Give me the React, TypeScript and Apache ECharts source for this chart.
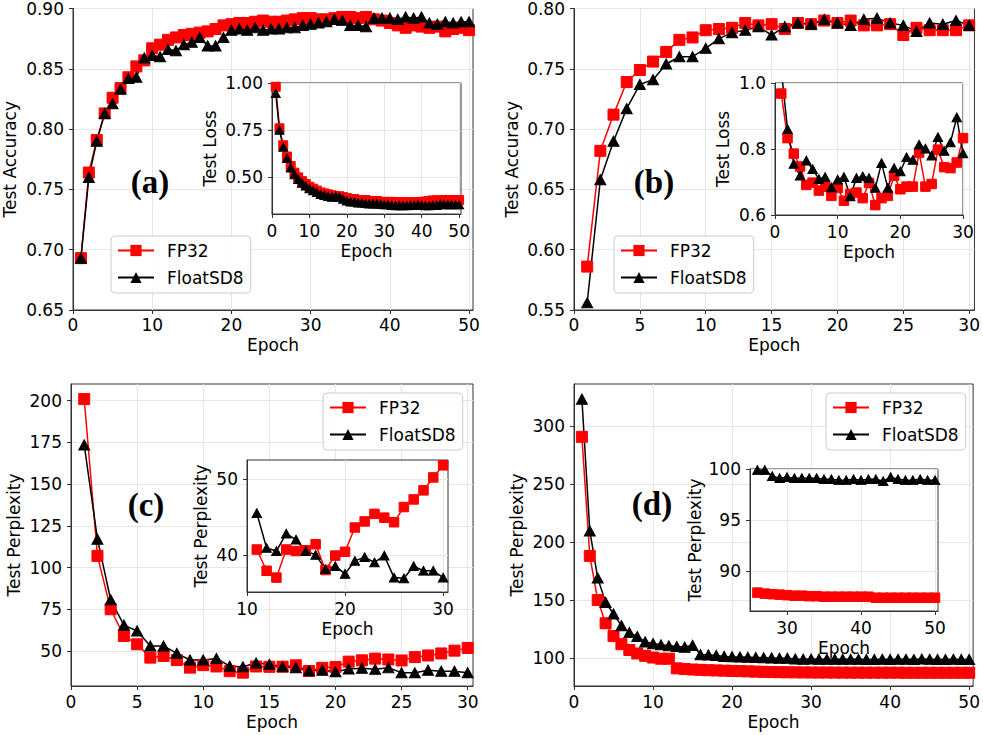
import React, { useEffect, useRef } from "react";
import * as echarts from "echarts";

// ---------- data ----------
const A_ACC_FP32 = [0.693, 0.764, 0.791, 0.813, 0.826, 0.834, 0.843, 0.852, 0.857, 0.867, 0.870, 0.874, 0.876, 0.878, 0.879, 0.880, 0.881, 0.883, 0.886, 0.887, 0.888, 0.888, 0.889, 0.890, 0.889, 0.889, 0.890, 0.891, 0.892, 0.892, 0.891, 0.891, 0.892, 0.893, 0.893, 0.892, 0.893, 0.891, 0.890, 0.888, 0.886, 0.884, 0.886, 0.885, 0.884, 0.885, 0.881, 0.883, 0.884, 0.882];
const A_ACC_SD8 = [0.693, 0.760, 0.790, 0.813, 0.821, 0.833, 0.842, 0.843, 0.859, 0.861, 0.860, 0.866, 0.865, 0.870, 0.872, 0.876, 0.869, 0.869, 0.876, 0.882, 0.883, 0.882, 0.884, 0.882, 0.883, 0.883, 0.884, 0.884, 0.886, 0.887, 0.888, 0.889, 0.891, 0.890, 0.886, 0.886, 0.885, 0.892, 0.892, 0.892, 0.891, 0.893, 0.892, 0.893, 0.888, 0.887, 0.889, 0.888, 0.889, 0.889];
const A_LOSS_FP32 = [0.98, 0.76, 0.67, 0.61, 0.56, 0.525, 0.50, 0.48, 0.465, 0.45, 0.44, 0.43, 0.42, 0.415, 0.41, 0.405, 0.40, 0.40, 0.395, 0.39, 0.385, 0.385, 0.38, 0.38, 0.38, 0.375, 0.375, 0.375, 0.37, 0.37, 0.37, 0.37, 0.368, 0.368, 0.368, 0.368, 0.368, 0.368, 0.368, 0.37, 0.372, 0.375, 0.378, 0.378, 0.378, 0.38, 0.38, 0.38, 0.378, 0.38];
const A_LOSS_SD8 = [0.945, 0.75, 0.66, 0.60, 0.55, 0.515, 0.49, 0.47, 0.455, 0.44, 0.43, 0.42, 0.41, 0.405, 0.40, 0.395, 0.40, 0.395, 0.385, 0.375, 0.37, 0.37, 0.365, 0.365, 0.362, 0.36, 0.36, 0.36, 0.358, 0.355, 0.355, 0.352, 0.35, 0.35, 0.35, 0.35, 0.352, 0.352, 0.355, 0.352, 0.35, 0.35, 0.352, 0.352, 0.36, 0.355, 0.355, 0.355, 0.355, 0.355];

const B_ACC_FP32 = [0.586, 0.682, 0.712, 0.739, 0.749, 0.756, 0.764, 0.774, 0.776, 0.782, 0.783, 0.784, 0.788, 0.786, 0.787, 0.783, 0.788, 0.787, 0.790, 0.788, 0.790, 0.786, 0.786, 0.787, 0.778, 0.784, 0.782, 0.782, 0.782, 0.786];
const B_ACC_SD8 = [0.556, 0.658, 0.690, 0.717, 0.737, 0.741, 0.754, 0.760, 0.760, 0.767, 0.775, 0.780, 0.782, 0.785, 0.778, 0.785, 0.788, 0.787, 0.791, 0.788, 0.786, 0.791, 0.792, 0.788, 0.786, 0.781, 0.788, 0.787, 0.790, 0.786];
const B_LOSS_FP32 = [0.968, 0.833, 0.786, 0.747, 0.691, 0.698, 0.674, 0.686, 0.658, 0.682, 0.643, 0.664, 0.668, 0.651, 0.697, 0.630, 0.651, 0.658, 0.719, 0.678, 0.686, 0.686, 0.789, 0.686, 0.694, 0.798, 0.745, 0.742, 0.759, 0.833];
const B_LOSS_SD8 = [1.04, 0.860, 0.755, 0.719, 0.765, 0.739, 0.709, 0.715, 0.684, 0.707, 0.715, 0.656, 0.712, 0.717, 0.712, 0.682, 0.757, 0.682, 0.742, 0.732, 0.775, 0.767, 0.813, 0.801, 0.780, 0.836, 0.794, 0.820, 0.896, 0.787];

const C_PPL_FP32 = [201, 107, 75, 59, 54, 46, 47, 44.5, 40, 41.5, 40.7, 37.9, 37.0, 40.7, 40.5, 40.6, 41.4, 38.0, 39.9, 40.4, 43.6, 44.4, 45.4, 44.9, 44.3, 46.3, 47.3, 48.5, 50.2, 51.8];
const C_PPL_SD8 = [173.5, 117, 80.7, 65.5, 62, 53, 53, 48.6, 44.6, 44.6, 45.5, 40.9, 40.5, 42.8, 42.0, 40.5, 40.0, 38.1, 38.5, 37.5, 39.2, 39.7, 39.0, 39.9, 37.0, 36.9, 38.5, 37.9, 37.9, 37.0];

const D_PPL_FP32 = [290.5, 188, 150, 130, 119, 112, 107, 104, 102, 100.5, 99.5, 99.5, 91.2, 90.6, 90.2, 89.9, 89.6, 89.4, 89.2, 89.0, 88.8, 88.6, 88.4, 88.2, 88.0, 87.9, 87.8, 87.75, 87.7, 87.65, 87.6, 87.6, 87.55, 87.55, 87.5, 87.5, 87.5, 87.5, 87.5, 87.5, 87.5, 87.4, 87.4, 87.4, 87.4, 87.4, 87.4, 87.4, 87.4, 87.4];
const D_PPL_SD8 = [323, 209.5, 169, 148, 138, 128, 122, 118.6, 114, 112.5, 111.5, 110.6, 110, 109.5, 111, 103, 102.8, 102.3, 101.5, 101.2, 101.0, 100.8, 100.6, 100.4, 100.2, 99.9, 99.9, 99.3, 99.1, 99.2, 99.1, 99.1, 99.1, 99.1, 99.0, 99.0, 98.9, 98.9, 99.0, 98.9, 99.0, 99.0, 98.8, 99.2, 99.0, 98.9, 98.9, 99.0, 98.9, 98.9];

// inset C starts at epoch 11, inset D at epoch 26
const C_INSET_START = 11;
const D_INSET_START = 26;

// tick labels
const X_TICKS_50 = [0, 10, 20, 30, 40, 50];
const X_TICKS_30 = [0, 5, 10, 15, 20, 25, 30];
const X_TICKS_INSET_B = [0, 10, 20, 30];
const X_TICKS_INSET_C = [10, 20, 30];
const X_TICKS_INSET_D = [30, 40, 50];
const Y_TICKS_A = [0.65, 0.70, 0.75, 0.80, 0.85, 0.90];
const Y_TICKS_A_INSET = [0.50, 0.75, 1.00];
const Y_TICKS_B = [0.55, 0.60, 0.65, 0.70, 0.75, 0.80];
const Y_TICKS_B_INSET = [0.6, 0.8, 1.0];
const Y_TICKS_C = [50, 75, 100, 125, 150, 175, 200];
const Y_TICKS_C_INSET = [40, 50];
const Y_TICKS_D = [100, 150, 200, 250, 300];
const Y_TICKS_D_INSET = [90, 95, 100];

const SERIES_NAMES = ["FP32", "FloatSD8"];
const PANEL_LABELS = ["(a)", "(b)", "(c)", "(d)"];

// ---------- helpers ----------
const FONT = "DejaVu Sans";
const FS = 17;
const FRAME = "#333333";
const GRIDLINE = "#e6e6e6";

const pairs = (vals: number[], start = 1) => vals.map((v, i) => [i + start, v]);

function grid(left: number, top: number, width: number, height: number, z: number) {
  return {
    left, top, width, height, z,
    show: true, borderColor: FRAME, borderWidth: 1, backgroundColor: "#ffffff",
    containLabel: false,
  };
}

function axis(
  kind: "x" | "y", gridIndex: number, min: number, max: number, ticks: number[],
  name: string, nameGap: number, margin: number, fmt: (v: number) => string, z: number
) {
  return {
    type: "value", gridIndex, min, max, z,
    name, nameLocation: "middle", nameGap,
    nameTextStyle: { fontFamily: FONT, fontSize: FS, color: "#000" },
    axisLine: { show: true, onZero: false, lineStyle: { color: FRAME, width: 1 } },
    axisTick: { show: true, length: 4, inside: false, customValues: ticks, lineStyle: { color: FRAME } },
    axisLabel: {
      customValues: ticks, margin, fontFamily: FONT, fontSize: FS, color: "#000",
      formatter: (v: number) => fmt(v),
    },
    splitLine: { show: true, lineStyle: { color: GRIDLINE, width: 1 } },
  };
}

const f0 = (v: number) => String(Math.round(v));
const f1 = (v: number) => v.toFixed(1);
const f2 = (v: number) => v.toFixed(2);

function lineSeries(
  name: string, axisIdx: number, data: number[][], symbolSize: number, z: number
) {
  const isFP = name === SERIES_NAMES[0];
  const color = isFP ? "#ff0000" : "#000000";
  return {
    type: "line", name, xAxisIndex: axisIdx, yAxisIndex: axisIdx, data, z,
    symbol: isFP ? "rect" : "triangle",
    symbolSize: isFP ? symbolSize : [symbolSize, symbolSize * 0.92],
    showAllSymbol: true,
    clip: true,
    itemStyle: { color, borderColor: color },
    lineStyle: { color, width: 1.5 },
    emphasis: { disabled: true },
  };
}

function legend(left: number, top: number) {
  return {
    left, top, orient: "vertical",
    itemWidth: 36, itemHeight: 14, itemGap: 10,
    padding: [6, 7, 7, 6],
    borderColor: "#cccccc", borderWidth: 1, borderRadius: 4,
    backgroundColor: "rgba(255,255,255,0.85)",
    textStyle: { fontFamily: FONT, fontSize: FS, color: "#000", padding: [0, 0, 0, 8] },
    data: SERIES_NAMES,
    selectedMode: false,
    z: 8,
  };
}

function panelLabel(text: string, x: number, y: number) {
  return {
    type: "text", z: 9,
    style: {
      text, x, y,
      fontFamily: "Liberation Serif", fontSize: 33, fontWeight: "bold",
      fill: "#000",
      textAlign: "center", textVerticalAlign: "middle",
      align: "center", verticalAlign: "middle",
    },
  };
}

export default function App() {
  const ref = useRef<HTMLDivElement>(null);

  useEffect(() => {
    if (!ref.current) return;
    const chart = echarts.init(ref.current, undefined, { renderer: "svg" });

    const grids = [
      grid(71, 8, 402, 302, 0),    // 0 a main
      grid(272, 83, 189, 131, 3),  // 1 a inset
      grid(574, 8, 401, 302, 0),   // 2 b main
      grid(775, 83, 188, 132, 3),  // 3 b inset
      grid(71, 384, 402, 302, 0),  // 4 c main
      grid(247, 460, 201, 132, 3), // 5 c inset
      grid(574, 384, 402, 302, 0), // 6 d main
      grid(750, 469, 188, 142, 3), // 7 d inset
    ];

    const xAxes = [
      axis("x", 0, 0, 50.5, X_TICKS_50, "Epoch", 26, 6, f0, 0),
      axis("x", 1, 0, 50.5, X_TICKS_50, "Epoch", 28, 8, f0, 4),
      axis("x", 2, 0, 30.4, X_TICKS_30, "Epoch", 26, 6, f0, 0),
      axis("x", 3, 0, 30, X_TICKS_INSET_B, "Epoch", 28, 8, f0, 4),
      axis("x", 4, 0, 30.4, X_TICKS_30, "Epoch", 27, 7, f0, 0),
      axis("x", 5, 10, 30.5, X_TICKS_INSET_C, "Epoch", 28, 8, f0, 4),
      axis("x", 6, 0, 50.5, X_TICKS_50, "Epoch", 27, 7, f0, 0),
      axis("x", 7, 25, 50.4, X_TICKS_INSET_D, "Epoch", 28, 8, f0, 4),
    ];

    const yAxes = [
      axis("y", 0, 0.65, 0.90, Y_TICKS_A, "Test Accuracy", 55, 9, f2, 0),
      axis("y", 1, 0.306, 1.0, Y_TICKS_A_INSET, "Test Loss", 54, 9, f2, 4),
      axis("y", 2, 0.55, 0.80, Y_TICKS_B, "Test Accuracy", 54, 9, f2, 0),
      axis("y", 3, 0.6, 1.0, Y_TICKS_B_INSET, "Test Loss", 44, 9, f1, 4),
      axis("y", 4, 29, 210, Y_TICKS_C, "Test Perplexity", 49, 9, f0, 0),
      axis("y", 5, 35.1, 52.5, Y_TICKS_C_INSET, "Test Perplexity", 38, 9, f0, 4),
      axis("y", 6, 76, 336, Y_TICKS_D, "Test Perplexity", 49, 9, f0, 0),
      axis("y", 7, 86.1, 100, Y_TICKS_D_INSET, "Test Perplexity", 47, 9, f0, 4),
    ];

    const [FP, SD] = SERIES_NAMES;
    const series = [
      lineSeries(FP, 0, pairs(A_ACC_FP32), 11, 2),
      lineSeries(SD, 0, pairs(A_ACC_SD8), 11, 2),
      lineSeries(FP, 2, pairs(B_ACC_FP32), 11, 2),
      lineSeries(SD, 2, pairs(B_ACC_SD8), 11, 2),
      lineSeries(FP, 4, pairs(C_PPL_FP32), 11, 2),
      lineSeries(SD, 4, pairs(C_PPL_SD8), 11, 2),
      lineSeries(FP, 6, pairs(D_PPL_FP32), 11, 2),
      lineSeries(SD, 6, pairs(D_PPL_SD8), 11, 2),
      lineSeries(FP, 1, pairs(A_LOSS_FP32), 9, 5),
      lineSeries(SD, 1, pairs(A_LOSS_SD8), 9, 5),
      lineSeries(FP, 3, pairs(B_LOSS_FP32), 9.5, 5),
      lineSeries(SD, 3, pairs(B_LOSS_SD8), 9.5, 5),
      lineSeries(FP, 5, pairs(C_PPL_FP32.slice(C_INSET_START - 1), C_INSET_START), 9.5, 5),
      lineSeries(SD, 5, pairs(C_PPL_SD8.slice(C_INSET_START - 1), C_INSET_START), 9.5, 5),
      lineSeries(FP, 7, pairs(D_PPL_FP32.slice(D_INSET_START - 1), D_INSET_START), 9.5, 5),
      lineSeries(SD, 7, pairs(D_PPL_SD8.slice(D_INSET_START - 1), D_INSET_START), 9.5, 5),
    ];

    chart.setOption({
      animation: false,
      backgroundColor: "#ffffff",
      textStyle: { fontFamily: FONT },
      grid: grids,
      xAxis: xAxes,
      yAxis: yAxes,
      legend: [legend(111, 236), legend(614, 236), legend(323, 393), legend(826, 393)],
      series,
      graphic: [
        panelLabel(PANEL_LABELS[0], 150, 182),
        panelLabel(PANEL_LABELS[1], 654, 182),
        panelLabel(PANEL_LABELS[2], 146, 505),
        panelLabel(PANEL_LABELS[3], 652, 504),
      ],
    });

    return () => chart.dispose();
  }, []);

  return (
    <div
      ref={ref}
      style={{ position: "fixed", left: 0, top: 0, width: 983, height: 735, background: "#fff" }}
    />
  );
}
